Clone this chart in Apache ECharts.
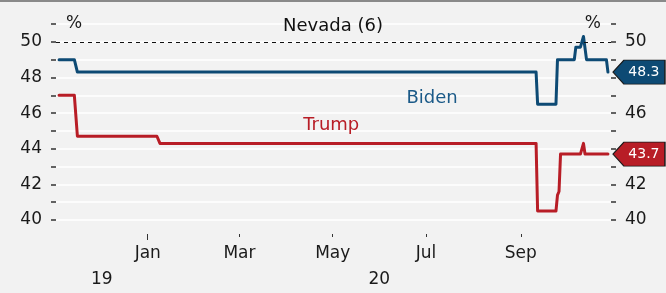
<!DOCTYPE html>
<html>
<head>
<meta charset="utf-8">
<script src="https://cdn.jsdelivr.net/npm/echarts@6/dist/echarts.min.js"></script>
<style>
    html, body { margin: 0; padding: 0; background: #f2f2f2; }
    #chart { width: 666px; height: 293px; }
</style>
</head>
<body>
<div id="chart"></div>
<script>
// poll averages, Nevada
const biden = [
    ['2019-11-04', 49.0], ['2019-11-14', 49.0], ['2019-11-16', 48.3],
    ['2020-09-11', 48.3], ['2020-09-12', 46.5], ['2020-09-24', 46.5], ['2020-09-25', 49.0],
    ['2020-10-06', 49.0], ['2020-10-07', 49.7], ['2020-10-10', 49.7], ['2020-10-12', 50.3],
    ['2020-10-14', 49.0], ['2020-10-27', 49.0], ['2020-10-28', 48.3]
]
const trump = [
    ['2019-11-04', 47.0], ['2019-11-14', 47.0], ['2019-11-16', 44.7], ['2020-01-07', 44.7],
    ['2020-01-09', 44.3], ['2020-09-11', 44.3], ['2020-09-12', 40.5], ['2020-09-24', 40.5],
    ['2020-09-25', 41.4], ['2020-09-26', 41.6], ['2020-09-27', 43.7], ['2020-10-10', 43.7],
    ['2020-10-12', 44.3], ['2020-10-13', 43.7], ['2020-10-28', 43.7]
]
const monthTicks = ['2020-01-01', '2020-03-01', '2020-05-01', '2020-07-01', '2020-09-01']
const monthLabels = ['Jan', 'Mar', 'May', 'Jul', 'Sep']
const yearLabels = ['19', '20']
const xMin = '2019-11-02'
const xMax = '2020-10-30'

const ts = (s) => {
    const [y, m, d] = s.split('-').map(Number)
    return new Date(y, m - 1, d).getTime()
}
const toXY = (arr) => arr.map(([d, v]) => [ts(d), v])
const monthTs = monthTicks.map(ts)
const jan1 = monthTs[0]
// year labels sit in the middle of the visible part of each year
const yearMid = [(ts(xMin) + jan1) / 2, (jan1 + ts(xMax)) / 2]

const font = 'DejaVu Sans'
const blue = '#0d4a74'
const red = '#b81d26'
const last = (arr) => arr[arr.length - 1]
// right-hand tick labels covered by the end tags
const coveredRight = [biden, trump].map((a) => Math.round(last(a)[1] / 2) * 2)

const tag = (arr, color) => ({
    coord: [ts(last(arr)[0]), last(arr)[1]],
    value: last(arr)[1],
    symbol: 'path://M0,12L11,0L52,0L52,24L11,24Z',
    symbolSize: [52, 24],
    symbolKeepAspect: false,
    symbolOffset: [31, 0],
    itemStyle: { color: color, borderColor: '#1a1a1a', borderWidth: 1 },
    label: {
        show: true,
        position: 'inside',
        offset: [5, 0],
        color: '#fff',
        fontFamily: font,
        fontSize: 14,
        formatter: (p) => p.value.toFixed(1),
    },
})

const nameLabel = (date, y, text, color) => ({
    coord: [ts(date), y],
    symbol: 'rect',
    symbolSize: 1,
    itemStyle: { color: 'transparent' },
    label: {
        show: true,
        position: 'inside',
        formatter: text,
        color: color,
        fontFamily: font,
        fontSize: 18,
    },
})

const yAxisBase = {
    type: 'value',
    min: 40,
    max: 51,
    interval: 1,
    nameLocation: 'end',
    nameGap: 0,
    axisLine: { show: false },
    axisTick: { show: true, length: 5, lineStyle: { color: '#333', width: 1.5 } },
}
const yLabel = {
    margin: 14,
    color: '#1a1a1a',
    fontFamily: font,
    fontSize: 17,
}

const xAxisBase = {
    type: 'value',
    min: ts(xMin),
    max: ts(xMax),
    position: 'bottom',
    offset: 14,
    axisLine: { show: false },
    splitLine: { show: false },
}

const myChart = echarts.init(document.getElementById('chart'))
const option = {
    backgroundColor: '#f2f2f2',
    animation: false,
    title: {
        text: 'Nevada (6)',
        left: 'center',
        top: 17,
        padding: [0, 0, 0, 8],
        textStyle: { fontFamily: font, fontSize: 18, fontWeight: 'normal', color: '#111' },
    },
    graphic: [{
        type: 'rect',
        shape: { x: 0, y: 0, width: 666, height: 2 },
        style: { fill: '#8a8a8a' },
    }],
    grid: { left: 56, right: 55, top: 24, bottom: 73, outerBoundsMode: 'none' },
    xAxis: [{
        ...xAxisBase,
        axisTick: { show: true, customValues: monthTs, length: 3, lineStyle: { color: '#333', width: 1 } },
        axisLabel: {
            customValues: monthTs,
            margin: 11,
            color: '#1a1a1a',
            fontFamily: font,
            fontSize: 17,
            formatter: (v) => monthLabels[monthTs.indexOf(v)] || '',
        },
    }, {
        ...xAxisBase,
        axisTick: { show: true, customValues: [jan1], length: 6, lineStyle: { color: '#333', width: 1 } },
        axisLabel: {
            customValues: yearMid,
            margin: 37,
            color: '#1a1a1a',
            fontFamily: font,
            fontSize: 17,
            formatter: (v) => yearLabels[new Date(v).getFullYear() - 2019] || '',
        },
    }],
    yAxis: [{
        ...yAxisBase,
        position: 'left',
        name: '%',
        nameTextStyle: { align: 'left', verticalAlign: 'middle', padding: [0, 0, 0, 10], color: '#1a1a1a', fontFamily: font, fontSize: 17 },
        splitLine: { show: true, lineStyle: { color: '#ffffff', width: 1.5 } },
        axisLabel: { ...yLabel, formatter: (v) => (v % 2 === 0 && v <= 50 ? String(v) : '') },
    }, {
        ...yAxisBase,
        position: 'right',
        name: '%',
        nameTextStyle: { align: 'right', verticalAlign: 'middle', padding: [0, 10, 0, 0], color: '#1a1a1a', fontFamily: font, fontSize: 17 },
        splitLine: { show: false },
        axisLabel: {
            ...yLabel,
            formatter: (v) => (v % 2 === 0 && v <= 50 && coveredRight.indexOf(v) < 0 ? String(v) : ''),
        },
    }],
    series: [{
        name: 'Trump',
        type: 'line',
        data: toXY(trump),
        showSymbol: false,
        lineStyle: { color: red, width: 3, cap: 'round', join: 'round' },
        markLine: {
            silent: true,
            symbol: 'none',
            label: { show: false },
            lineStyle: { color: '#111', width: 1, type: [4, 4] },
            data: [{ yAxis: 50 }],
        },
        markPoint: {
            data: [tag(trump, red), nameLabel('2020-04-30', 45.32, 'Trump', red)],
        },
    }, {
        name: 'Biden',
        type: 'line',
        data: toXY(biden),
        showSymbol: false,
        lineStyle: { color: blue, width: 3, cap: 'round', join: 'round' },
        markPoint: {
            data: [tag(biden, blue), nameLabel('2020-07-05', 46.84, 'Biden', '#1b5a88')],
        },
    }],
}
option && myChart.setOption(option)
</script>
</body>
</html>
